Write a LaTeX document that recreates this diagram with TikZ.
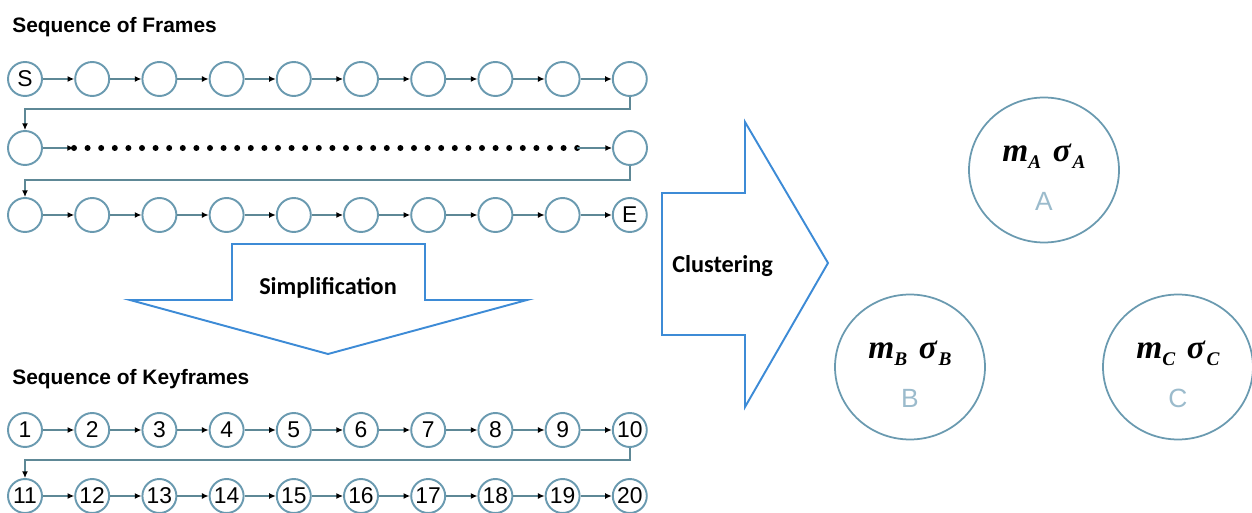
\documentclass[tikz,border=0pt]{standalone}
\usepackage{fontspec}
\setmainfont{Liberation Sans}
\newfontfamily\calibrifont{Carlito}
\newfontfamily\timesfont{Liberation Serif}
\usepackage{xcolor}
\usetikzlibrary{arrows.meta, shapes.geometric}
\definecolor{ringColor}{HTML}{6A9AB0}
\definecolor{lineColor}{HTML}{5E8896}
\definecolor{bigArrowColor}{HTML}{3D8BD6}
\definecolor{clusterColor}{HTML}{9BBBCC}

% mean and deviation of a cluster
\newcommand{\meansig}[1]{{\timesfont\bfseries\itshape\fontsize{19}{21}\selectfont
  m\raisebox{-0.45ex}{\fontsize{11}{12}\selectfont #1}\hspace{0.35em}σ\hspace{0.05em}\raisebox{-0.45ex}{\fontsize{11}{12}\selectfont #1}}}

\begin{document}
\begin{tikzpicture}[x=0.02cm, y=-0.02cm,
    frame/.style={circle, draw=ringColor, line width=1.1pt, minimum size=0.68cm,
        inner sep=0pt, font=\fontsize{13}{13}\selectfont},
    link/.style={draw=lineColor, line width=1.1pt,
        -{Latex[black, length=3.8pt, width=3.4pt]}},
    bigarrow/.style={draw=bigArrowColor, line width=1.1pt},
    cluster/.style={ellipse, draw=ringColor, line width=1pt,
        minimum width=3.0cm, minimum height=2.9cm, inner sep=0pt},
    title/.style={anchor=base west, inner sep=0pt,
        font=\bfseries\fontsize{11.9}{14}\selectfont},
    arrowtext/.style={inner sep=0pt, font=\calibrifont\bfseries\fontsize{13.8}{16}\selectfont},
    clustername/.style={inner sep=0pt, text=clusterColor, font=\fontsize{15}{16}\selectfont}]

    \useasboundingbox (0,0) rectangle (1252,513);

    % sequence of frames
    \node[title] (frtitle) at (12,33) {Sequence of Frames};
    \foreach \c in {0,...,9} {
        \node[frame] (a\c) at ({25+67.2*\c},79) {\ifnum\c=0 S\fi};
        \node[frame] (c\c) at ({25+67.2*\c},215) {\ifnum\c=9 E\fi};
    }
    \node[frame] (b0) at (25,148) {};
    \node[frame] (b9) at (630,148) {};
    \foreach \c [remember=\c as \p (initially 0)] in {1,...,9} {
        \draw[link] (a\p) -- (a\c);
        \draw[link] (c\p) -- (c\c);
    }
    % frames left out
    \coordinate (dotL) at (74,148);
    \coordinate (dotR) at (577,148);
    \draw[link] (b0) -- (dotL);
    \foreach \i in {0,...,37}
        \fill ({74+13.6*\i},148) circle (3);
    \draw[link] (dotR) -- (b9);
    % wrap to next row
    \coordinate (wrapA) at (25,109);
    \coordinate (wrapB) at (25,180);
    \draw[link] (a9.south) |- (wrapA) -- (b0.north);
    \draw[link] (b9.south) |- (wrapB) -- (c0.north);

    % simplification
    \draw[bigarrow] (232,244) -- (425,244) -- (425,300) -- (527,300)
        -- (328,354) -- (130,300) -- (232,300) -- cycle;
    \node[arrowtext] (simp) at (328,288) {Simplification};

    % sequence of keyframes
    \node[title] (kftitle) at (12,385) {Sequence of Keyframes};
    \foreach \c in {1,...,10} {
        \pgfmathtruncatemacro\n{\c+10}
        \node[frame] (k\c) at ({25+67.2*(\c-1)},430) {\c};
        \node[frame] (k\n) at ({25+67.2*(\c-1)},496) {\n};
    }
    \foreach \c [remember=\c as \p (initially 1)] in {2,...,10} {
        \pgfmathtruncatemacro\n{\c+10}
        \pgfmathtruncatemacro\m{\p+10}
        \draw[link] (k\p) -- (k\c);
        \draw[link] (k\m) -- (k\n);
    }
    \coordinate (wrapK) at (25,460);
    \draw[link] (k10.south) |- (wrapK) -- (k11.north);

    % clustering
    \draw[bigarrow] (662,193) -- (745,193) -- (745,122) -- (828,263)
        -- (745,407) -- (745,335) -- (662,335) -- cycle;
    \node[arrowtext, anchor=west] (clus) at (672,266) {Clustering};

    \node[cluster] (cA) at (1044,170) {};
    \node[cluster] (cB) at (910,367) {};
    \node[cluster] (cC) at (1178,367) {};
    \foreach \k in {A,B,C} {
        \node (s\k) at ([yshift=0.28cm]c\k.center) {\meansig{\k}};
        \node[clustername] (n\k) at ([yshift=-0.62cm]c\k.center) {\k};
    }
\end{tikzpicture}
\end{document}
